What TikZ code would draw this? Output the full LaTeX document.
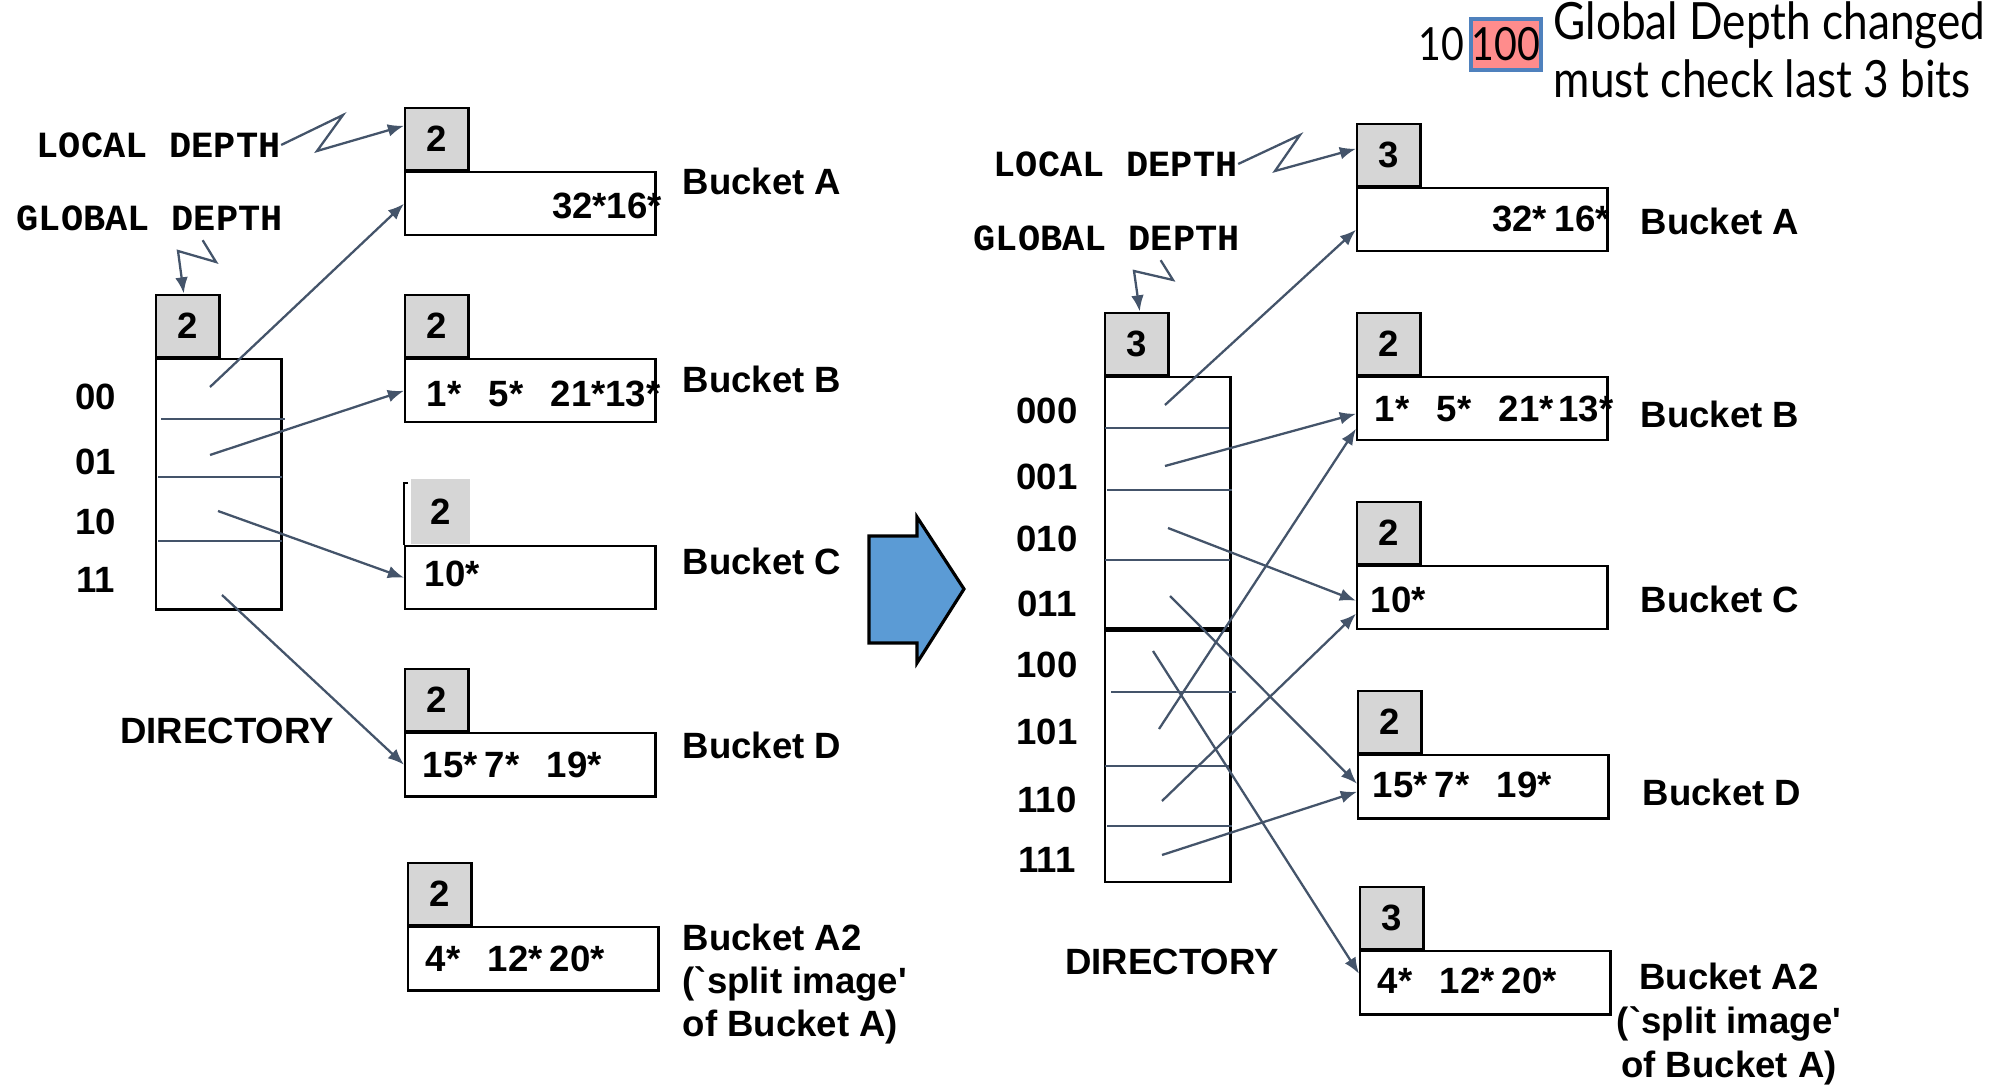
\documentclass[tikz,border=0pt]{standalone}
\usepackage{fontspec}
\setmainfont{Liberation Sans}
\newfontfamily\monob{Liberation Mono}
\newfontfamily\gillish[FakeStretch=0.86]{Lato}
\usetikzlibrary{arrows.meta,positioning,calc}
\definecolor{ptrblue}{RGB}{68,84,106}
\definecolor{bigarrow}{RGB}{91,155,213}
\definecolor{hlpink}{RGB}{255,140,140}
\definecolor{hlframe}{RGB}{79,129,189}
\newcommand{\entryrow}[3]{\makebox[0.62cm][l]{#1}\makebox[0.62cm][l]{#2}#3}
\tikzset{
  depthbox/.style={draw, line width=0.7pt, fill=black!16, minimum width=0.63cm, minimum height=0.62cm, inner sep=0pt, font=\bfseries\fontsize{10.4}{12}\selectfont},
  bucketbox/.style={draw, line width=0.7pt, minimum width=2.5cm, minimum height=0.63cm, inner sep=0pt},
  dirbox/.style={draw, line width=0.7pt, minimum width=1.25cm, inner sep=0pt},
  entries/.style={anchor=west, inner sep=0pt, font=\bfseries\fontsize{10.4}{12}\selectfont},
  bucketname/.style={anchor=west, inner sep=0pt, font=\bfseries\fontsize{10.4}{12.1}\selectfont},
  bits/.style={inner sep=0pt, font=\bfseries\fontsize{10.4}{12}\selectfont},
  ttlabel/.style={anchor=west, inner sep=0pt, font=\monob\bfseries\fontsize{10.5}{12}\selectfont},
  notetext/.style={inner sep=0pt, font=\gillish\fontsize{14.6}{15}\selectfont},
  notebits/.style={inner sep=0pt, font=\gillish\fontsize{13}{14}\selectfont},
  ptr/.style={ptrblue, line width=0.65pt, -{Latex[length=4.6pt,width=3.6pt]}},
  slotline/.style={ptrblue, line width=0.65pt},
}

\begin{document}
\begin{tikzpicture}[x=0.01cm, y=-0.01cm]
\useasboundingbox (0,0) rectangle (2014,1085);

% directory before the split
\node[dirbox, minimum height=2.5cm, anchor=north west] (dirL) at (155,358) {};
\node[depthbox, anchor=south west] (gdL) at (dirL.north west) {2};
\draw[slotline] (161,419) -- (285,419);
\draw[slotline] (158,477) -- (282,477);
\draw[slotline] (158,541) -- (282,541);
\node[bits] (row00) at (96,397) {00};
\node[bits] (row01) at (96,462) {01};
\node[bits] (row10) at (96,522) {10};
\node[bits] (row11) at (96,580) {11};
\node[bits] (dirnameL) at (227,731) {DIRECTORY};
\coordinate (s00) at (210,387);
\coordinate (s01) at (210,455);
\coordinate (s10) at (218,511);
\coordinate (s11) at (222,595);

% buckets before the split
\node[bucketbox, anchor=north west] (bA) at (404,171) {};
\node[depthbox, anchor=south west] (dA) at (bA.north west) {2};
\node[entries, anchor=east] (eA) at ($(bA.east)+(6,2)$) {32*16*};
\node[bucketname] (nA) at (682,181) {Bucket A};

\node[bucketbox, anchor=north west] (bB) at (404,358) {};
\node[depthbox, anchor=south west] (dB) at (bB.north west) {2};
\node[entries] (eB) at ($(bB.west)+(22,3)$) {\entryrow{1*}{5*}{21*13*}};
\node[bucketname] (nB) at (682,379) {Bucket B};

\node[bucketbox, anchor=north west] (bC) at (404,545) {};
\node[depthbox, draw=none, minimum width=0.59cm, minimum height=0.65cm, anchor=south west] (dC) at ($(bC.north west)+(6,0)$) {2};
\draw[line width=0.7pt] ($(bC.north west)+(4,-62)$) -- ($(bC.north west)+(0,-62)$) -- (bC.north west);
\node[entries] (eC) at ($(bC.west)+(20,-4)$) {10*};
\node[bucketname] (nC) at (682,561) {Bucket C};

\node[bucketbox, anchor=north west] (bD) at (404,732) {};
\node[depthbox, anchor=south west] (dD) at (bD.north west) {2};
\node[entries] (eD) at ($(bD.west)+(18,0)$) {\entryrow{15*}{7*}{19*}};
\node[bucketname] (nD) at (682,745) {Bucket D};

\node[bucketbox, anchor=north west] (bA2) at (407,926) {};
\node[depthbox, anchor=south west] (dA2) at (bA2.north west) {2};
\node[entries] (eA2) at ($(bA2.west)+(18,0)$) {\entryrow{4*}{12*}{20*}};
\node[bucketname, align=left] (nA2) at (682,984) {Bucket A2\\(\textasciigrave split image\textquotesingle\\of Bucket A)};

% pointers before the split
\draw[ptr] (s00) -- (bA.west);
\draw[ptr] (s01) -- (bB.west);
\draw[ptr] (s10) -- (bC.west);
\draw[ptr] (s11) -- (bD.west);

% depth labels
\node[ttlabel] (ldL) at (36,145) {LOCAL DEPTH};
\node[ttlabel] (gdtxtL) at (16,218) {GLOBAL DEPTH};
\draw[ptr] (ldL.east) -- (343,115) -- (317,151) -- ($(dA.west)+(0,-13)$);
\draw[ptr] ($(gdtxtL.south)+(53,9)$) -- (216,262) -- (178,251) -- ($(gdL.north)+(-4,0)$);

% split arrow
\fill[bigarrow, draw=black, line width=0.9pt] (869,536) -- (917,536) -- (917,517) -- (964,589) -- (917,663) -- (917,643) -- (869,643) -- cycle;

% directory after the split
\node[dirbox, minimum height=2.51cm, anchor=north west] (dirR) at (1104,376) {};
\node[dirbox, minimum height=2.51cm, anchor=north] (dirR2) at (dirR.south) {};
\node[depthbox, anchor=south west] (gdR) at (dirR.north west) {3};
\draw[slotline] (1105,428) -- (1229,428);
\draw[slotline] (1107,490) -- (1232,490);
\draw[slotline] (1105,560) -- (1230,560);
\draw[slotline] (1111,692) -- (1236,692);
\draw[slotline] (1105,766) -- (1229,766);
\draw[slotline] (1107,826) -- (1232,826);
\node[bits] (row000) at (1047,411) {000};
\node[bits] (row001) at (1047,477) {001};
\node[bits] (row010) at (1047,539) {010};
\node[bits] (row011) at (1047,604) {011};
\node[bits] (row100) at (1047,665) {100};
\node[bits] (row101) at (1047,732) {101};
\node[bits] (row110) at (1047,800) {110};
\node[bits] (row111) at (1047,860) {111};
\node[bits] (dirnameR) at (1172,962) {DIRECTORY};
\coordinate (s000) at (1165,405);
\coordinate (s001) at (1165,466);
\coordinate (s010) at (1168,528);
\coordinate (s011) at (1170,596);
\coordinate (s100) at (1153,651);
\coordinate (s101) at (1159,729);
\coordinate (s110) at (1162,801);
\coordinate (s111) at (1162,855);

% buckets after the split
\node[bucketbox, anchor=north west] (rA) at (1356,187) {};
\node[depthbox, anchor=south west] (rdA) at (rA.north west) {3};
\node[entries, anchor=east] (reA) at ($(rA.east)+(2,-1)$) {32*\hspace{0.08cm}16*};
\node[bucketname] (rnA) at (1640,221) {Bucket A};

\node[bucketbox, anchor=north west] (rB) at (1356,376) {};
\node[depthbox, anchor=south west] (rdB) at (rB.north west) {2};
\node[entries] (reB) at ($(rB.west)+(18,0)$) {\entryrow{1*}{5*}{21*\hspace{0.05cm}13*}};
\node[bucketname] (rnB) at (1640,414) {Bucket B};

\node[bucketbox, anchor=north west] (rC) at (1356,565) {};
\node[depthbox, anchor=south west] (rdC) at (rC.north west) {2};
\node[entries] (reC) at ($(rC.west)+(14,2)$) {10*};
\node[bucketname] (rnC) at (1640,599) {Bucket C};

\node[bucketbox, anchor=north west] (rD) at (1357,754) {};
\node[depthbox, anchor=south west] (rdD) at (rD.north west) {2};
\node[entries] (reD) at ($(rD.west)+(15,-2)$) {\entryrow{15*}{7*}{19*}};
\node[bucketname] (rnD) at (1642,792) {Bucket D};

\node[bucketbox, anchor=north west] (rA2) at (1359,950) {};
\node[depthbox, anchor=south west] (rdA2) at (rA2.north west) {3};
\node[entries] (reA2) at ($(rA2.west)+(18,-2)$) {\entryrow{4*}{12*}{20*}};
\node[bucketname, anchor=center, align=center, font=\bfseries\fontsize{10.4}{12.4}\selectfont] (rnA2) at (1729,1024) {Bucket A2\\(\textasciigrave split image\textquotesingle\\of Bucket A)};

% pointers after the split
\draw[ptr] (s000) -- ($(rA.west)+(0,10)$);
\draw[ptr] (s001) -- ($(rB.west)+(0,5)$);
\draw[ptr] (s010) -- ($(rC.west)+(0,3)$);
\draw[ptr] (s011) -- ($(rD.west)+(0,-3)$);
\draw[ptr] (s100) -- ($(rA2.west)+(0,-9)$);
\draw[ptr] (s101) -- ($(rB.west)+(0,20)$);
\draw[ptr] (s110) -- ($(rC.west)+(0,16)$);
\draw[ptr] (s111) -- ($(rD.west)+(0,5)$);

% depth labels
\node[ttlabel] (ldR) at (993,164) {LOCAL DEPTH};
\node[ttlabel] (gdtxtR) at (973,238) {GLOBAL DEPTH};
\draw[ptr] (ldR.east) -- (1300,135) -- (1275,171) -- ($(rdA.west)+(0,-6)$);
\draw[ptr] ($(gdtxtR.south)+(54,9)$) -- (1173,280) -- (1134,271) -- ($(gdR.north)+(3,0)$);

% note on the hash bits
\node[notebits, draw=hlframe, line width=1pt, fill=hlpink, minimum width=0.7cm, minimum height=0.51cm, anchor=north west] (hl) at (1469,17) {100};
\node[notebits, anchor=base east] (hlpre) at ($(hl.base west)+(-4,0)$) {10};
\node[notetext, anchor=base west] (note1) at (1553,40) {Global Depth changed};
\node[notetext, anchor=base west] (note2) at ($(note1.base west)+(0,58)$) {must check last 3 bits};
\end{tikzpicture}
\end{document}
